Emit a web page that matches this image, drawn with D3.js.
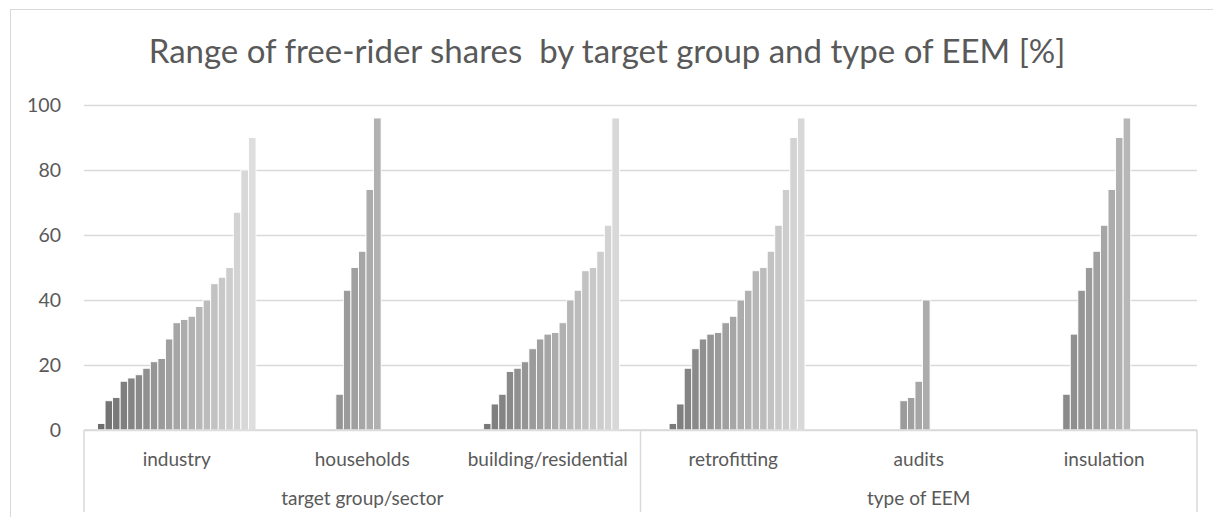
<!DOCTYPE html>
<html>
<head>
<meta charset="utf-8">
<script src="https://cdn.jsdelivr.net/npm/d3@7"></script>
<style>
  body { margin: 0; background: #fff; }
  text { font-family: Lato, "Open Sans", sans-serif; fill: #595959; }
</style>
</head>
<body>
<div id="chart"></div>
<script>
// Categories and their parent groups
const categories = ["industry", "households", "building/residential", "retrofitting", "audits", "insulation"];
const groupNames = ["target group/sector", "type of EEM"];
const groupSizes = [3, 3];

// One value per series slot (21 series), null where a series has no value
const industry     = [2, 9, 10, 15, 16, 17, 19, 21, 22, 28, 33, 34, 35, 38, 40, 45, 47, 50, 67, 80, 90];
const households   = [null, null, null, null, null, null, null, 11, 43, 50, 55, 74, 96, null, null, null, null, null, null, null, null];
const building     = [null, null, 2, 8, 11, 18, 19, 21, 25, 28, 29.5, 30, 33, 40, 43, 49, 50, 55, 63, 96, null];
const retrofitting = [null, null, 2, 8, 19, 25, 28, 29.5, 30, 33, 35, 40, 43, 49, 50, 55, 63, 74, 90, 96, null];
const audits       = [null, null, null, null, null, null, null, null, 9, 10, 15, 40, null, null, null, null, null, null, null, null, null];
const insulation   = [null, null, null, null, null, 11, 29.5, 43, 50, 55, 63, 74, 90, 96, null, null, null, null, null, null, null];

const yTicks = [0, 20, 40, 60, 80, 100];
const titleText = "Range of free-rider shares\u00a0 by target group and type of EEM [%]";

const rows = [industry, households, building, retrofitting, audits, insulation];
const nSeries = industry.length;

const W = 1213, H = 517;
const plot = { left: 84, right: 1197, top: 105, bottom: 430 };

const svg = d3.select("#chart").append("svg")
    .attr("width", W)
    .attr("height", H);

// chart area border
svg.append("rect")
    .attr("x", 10.5).attr("y", 9.5)
    .attr("width", W + 20).attr("height", H + 20)
    .attr("fill", "none")
    .attr("stroke", "#d9d9d9");

// Scales
const x = d3.scaleBand()
    .domain(categories)
    .range([plot.left, plot.right])
    .padding(0);

const xSeries = d3.scaleBand()
    .domain(d3.range(nSeries))
    .range([0, x.bandwidth()])
    .paddingInner(0)
    .paddingOuter(1.79);

const y = d3.scaleLinear()
    .domain([0, 100])
    .range([plot.bottom, plot.top]);

const color = d3.scaleLinear()
    .domain([0, nSeries - 1])
    .range(["#6e6e6e", "#dedede"]);

// Gridlines + y labels
const yAxis = svg.append("g")
    .attr("transform", `translate(${plot.left},0)`)
    .call(d3.axisLeft(y).tickValues(yTicks).tickSize(-(plot.right - plot.left)).tickPadding(23));
yAxis.select(".domain").remove();
yAxis.selectAll(".tick line").attr("stroke", "#d9d9d9").attr("stroke-width", 1.3);
yAxis.selectAll(".tick text")
    .style("font-size", "19.5px")
    .style("font-family", "Lato, sans-serif")
    .attr("fill", "#595959");

// Bars
svg.append("g")
  .selectAll("g")
  .data(rows)
  .join("g")
    .attr("transform", (d, i) => `translate(${x(categories[i])},0)`)
  .selectAll("rect")
  .data(d => d.map((v, s) => ({ s: s, v: v })).filter(p => p.v !== null))
  .join("rect")
    .attr("x", d => xSeries(d.s))
    .attr("y", d => y(d.v))
    .attr("width", xSeries.bandwidth())
    .attr("height", d => y(0) - y(d.v))
    .attr("fill", d => color(d.s))
    .attr("stroke", "#fff")
    .attr("stroke-width", 0.9);

// Category axis line
svg.append("line")
    .attr("x1", plot.left).attr("x2", plot.right)
    .attr("y1", plot.bottom).attr("y2", plot.bottom)
    .attr("stroke", "#d9d9d9").attr("stroke-width", 1.5);

// Group separators
let acc = 0;
const sepIdx = [0];
groupSizes.forEach(n => { acc += n; sepIdx.push(acc); });
svg.append("g")
  .selectAll("line")
  .data(sepIdx)
  .join("line")
    .attr("x1", i => i < categories.length ? x(categories[i]) : plot.right)
    .attr("x2", i => i < categories.length ? x(categories[i]) : plot.right)
    .attr("y1", plot.bottom)
    .attr("y2", 512)
    .attr("stroke", "#d9d9d9")
    .attr("stroke-width", 1.5);

// Category labels
svg.append("g")
  .selectAll("text")
  .data(categories)
  .join("text")
    .attr("x", d => x(d) + x.bandwidth() / 2)
    .attr("y", 458)
    .attr("text-anchor", "middle")
    .attr("dominant-baseline", "central")
    .style("font-size", "19px")
    .text(d => d);

// Group labels
svg.append("g")
  .selectAll("text")
  .data(groupNames)
  .join("text")
    .attr("x", (d, i) => {
      const a = x(categories[sepIdx[i]]);
      const b = sepIdx[i + 1] < categories.length ? x(categories[sepIdx[i + 1]]) : plot.right;
      return (a + b) / 2;
    })
    .attr("y", 497)
    .attr("text-anchor", "middle")
    .attr("dominant-baseline", "central")
    .style("font-size", "19px")
    .text(d => d);

// Title
svg.append("text")
    .attr("x", 607)
    .attr("y", 63)
    .attr("text-anchor", "middle")
    .style("font-size", "33px")
    .text(titleText);
</script>
</body>
</html>
